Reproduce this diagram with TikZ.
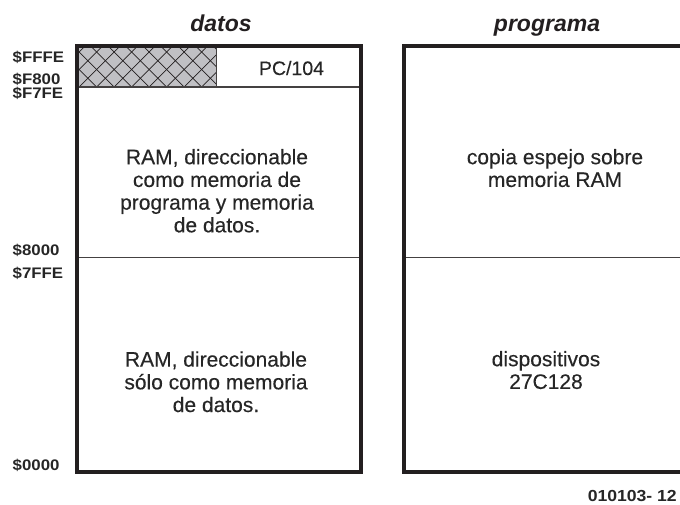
\documentclass[tikz,border=0pt]{standalone}
\usepackage{fontspec}
\setmainfont{Liberation Sans}
\newfontfamily\zonefont{Liberation Sans}[FakeBold=0.3]
\newfontfamily\addrfont{Liberation Sans Bold}[FakeStretch=1.1]
\usetikzlibrary{positioning,calc}
\definecolor{ink}{RGB}{35,31,32}
\definecolor{txt}{RGB}{38,38,38}
\definecolor{mesh}{RGB}{192,192,196}
\tikzset{
  wall/.style={draw=ink,line width=4pt},
  split/.style={draw=ink!85,line width=1.4pt},
  zone/.style={font=\zonefont\fontsize{21}{22.7}\selectfont,align=center,text=txt,inner sep=0pt,anchor=north},
  addr/.style={font=\addrfont\fontsize{15.3}{17}\selectfont,text=txt,inner sep=0pt,anchor=base west},
  colhead/.style={font=\bfseries\itshape\fontsize{23}{26}\selectfont,text=ink,inner sep=0pt,anchor=base},
  hatch/.style={draw=ink,line width=0.7pt},
}

\begin{document}
\begin{tikzpicture}[x=1pt,y=-1pt]
\useasboundingbox (0,0) rectangle (680,504);
\clip (0,0) rectangle (680,504);

% ---- corners of the two maps ----
\coordinate (dNW) at (76.5,46);
\coordinate (dSE) at (360.5,472);
\coordinate (pNW) at (404,46);
\coordinate (pSE) at (706,472);
\coordinate (pcSE) at (216.5,87);
\coordinate (mid) at (76.5,257.5);

% ---- hatched PC/104 window ----
\fill[mesh] (dNW) rectangle (pcSE);
\begin{scope}
  \clip (dNW) rectangle (pcSE);
  \foreach \k in {-3,...,10}{
    \draw[hatch] (96.7+17.5*\k,87) -- ++(50,-50);
    \draw[hatch] (96.7+17.5*\k,87) -- ++(-50,-50);
  }
\end{scope}
\draw[split] (pcSE |- dNW) -- (pcSE);
\draw[split] (dNW |- pcSE) -- (dSE |- pcSE);
\draw[split] (mid) -- (mid -| dSE);
\draw[split] (pNW |- mid) -- (pSE |- mid);
\draw[wall] (dNW) rectangle (dSE);
\draw[wall] (pNW) rectangle (pSE);

% ---- column heads ----
\node[colhead] (datos) at (221,31.5) {datos};
\node[colhead] (programa) at (547,31.5) {programa};

% ---- regions ----
\node[font=\zonefont\fontsize{19.5}{22}\selectfont,text=txt,inner sep=0pt,anchor=base] (pc) at (291.5,75) {PC/104};
\node[zone] (ramboth) at (217,148.8) {RAM, direccionable\\como memoria de\\programa y memoria\\de datos.};
\node[zone] (mirror) at (555,148.8) {copia espejo sobre\\memoria RAM};
\node[zone] (ramdata) at (216,351.2) {RAM, direccionable\\sólo como memoria\\de datos.};
\node[zone] (eprom) at (546,350.8) {dispositivos\\27C128};

% ---- addresses ----
\node[addr] (aFFFE) at (12.5,62) {\$FFFE};
\node[addr] (aF800) at (12.5,84.5) {\$F800};
\node[addr] (aF7FE) at (12.5,98.5) {\$F7FE};
\node[addr] (a8000) at (12.5,255) {\$8000};
\node[addr] (a7FFE) at (12.5,278) {\$7FFE};
\node[addr] (a0000) at (12.5,470) {\$0000};

\node[font=\addrfont\fontsize{16}{18}\selectfont,text=txt,inner sep=0pt,anchor=base east] (figno) at (677,501) {010103- 12};
\end{tikzpicture}
\end{document}
